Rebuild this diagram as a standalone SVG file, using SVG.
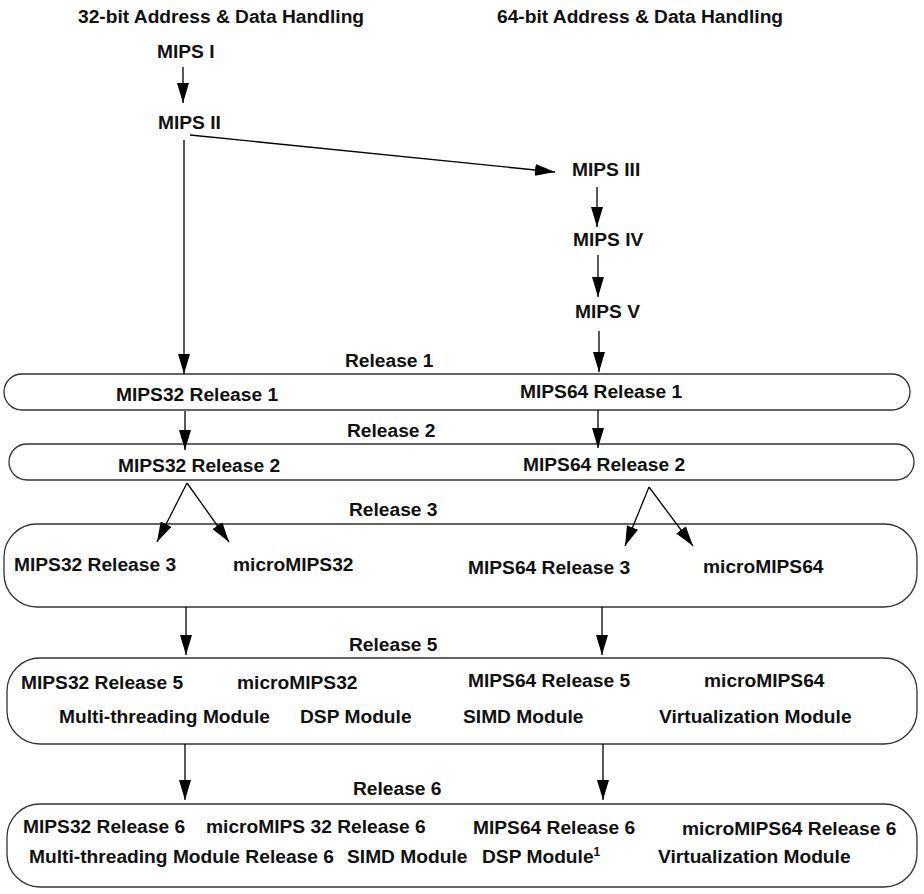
<svg xmlns="http://www.w3.org/2000/svg" width="924" height="894" viewBox="0 0 924 894">
<style>
text{font-family:"Liberation Sans",Arial,Helvetica,sans-serif;font-weight:bold;font-size:19.2px;fill:#111}
.box{fill:#fff;stroke:#333;stroke-width:1.3}
.c{fill:none;stroke:#000;stroke-width:1.3}
</style>
<defs>
<marker id="ah" markerUnits="userSpaceOnUse" markerWidth="20" markerHeight="12" refX="20" refY="6" orient="auto" viewBox="0 0 20 12">
<path d="M0,0 L20,6 L0,12 z" fill="#000"/>
</marker>
</defs>
<rect width="924" height="894" fill="#fff"/>
<g id="headers">
<text x="78" y="23">32-bit Address &amp; Data Handling</text>
<text x="497" y="23">64-bit Address &amp; Data Handling</text>
</g>
<g id="mips1"><text x="157" y="58">MIPS I</text></g>
<g id="mips2"><text x="158" y="129">MIPS II</text></g>
<g id="mips3"><text x="572" y="176">MIPS III</text></g>
<g id="mips4"><text x="573" y="246">MIPS IV</text></g>
<g id="mips5"><text x="575" y="318">MIPS V</text></g>
<g id="release1">
<text x="345" y="367">Release 1</text>
<rect class="box" x="4" y="374" width="906" height="36" rx="18" ry="18"/>
<text x="116" y="401">MIPS32 Release 1</text>
<text x="520" y="398">MIPS64 Release 1</text>
</g>
<g id="release2">
<text x="347" y="437">Release 2</text>
<rect class="box" x="9" y="444" width="905" height="36" rx="18" ry="18"/>
<text x="118" y="472">MIPS32 Release 2</text>
<text x="523" y="471">MIPS64 Release 2</text>
</g>
<g id="release3">
<text x="349" y="516">Release 3</text>
<rect class="box" x="4" y="524" width="913" height="83" rx="33" ry="33"/>
<text x="14" y="571">MIPS32 Release 3</text>
<text x="233" y="571">microMIPS32</text>
<text x="468" y="574">MIPS64 Release 3</text>
<text x="703" y="573">microMIPS64</text>
</g>
<g id="release5">
<text x="349" y="651">Release 5</text>
<rect class="box" x="7" y="658" width="910" height="86" rx="33" ry="33"/>
<text x="21" y="689">MIPS32 Release 5</text>
<text x="237" y="689">microMIPS32</text>
<text x="468" y="687">MIPS64 Release 5</text>
<text x="704" y="687">microMIPS64</text>
<text x="59" y="723">Multi-threading Module</text>
<text x="300" y="723">DSP Module</text>
<text x="463" y="723">SIMD Module</text>
<text x="659" y="723">Virtualization Module</text>
</g>
<g id="release6">
<text x="353" y="795">Release 6</text>
<rect class="box" x="7" y="804" width="910" height="83" rx="33" ry="33"/>
<text x="23" y="833">MIPS32 Release 6</text>
<text x="206" y="833">microMIPS 32 Release 6</text>
<text x="473" y="834">MIPS64 Release 6</text>
<text x="682" y="835">microMIPS64 Release 6</text>
<text x="29" y="863">Multi-threading Module Release 6</text>
<text x="347" y="863">SIMD Module</text>
<text x="482" y="863">DSP Module<tspan font-size="12" dy="-7">1</tspan></text>
<text x="658" y="863">Virtualization Module</text>
</g>
<g id="connectors">
<line class="c" x1="183" y1="67" x2="183" y2="103" marker-end="url(#ah)"/>
<line class="c" x1="184" y1="140" x2="184" y2="374" marker-end="url(#ah)"/>
<line class="c" x1="190" y1="135" x2="555" y2="172" marker-end="url(#ah)"/>
<line class="c" x1="597" y1="187" x2="597" y2="227" marker-end="url(#ah)"/>
<line class="c" x1="598" y1="255" x2="598" y2="297" marker-end="url(#ah)"/>
<line class="c" x1="599" y1="331" x2="599" y2="372" marker-end="url(#ah)"/>
<line class="c" x1="185" y1="411" x2="185" y2="450" marker-end="url(#ah)"/>
<line class="c" x1="598" y1="410" x2="598" y2="448" marker-end="url(#ah)"/>
<line class="c" x1="187" y1="483" x2="157" y2="542" marker-end="url(#ah)"/>
<line class="c" x1="187" y1="483" x2="229" y2="542" marker-end="url(#ah)"/>
<line class="c" x1="649" y1="487" x2="625" y2="546" marker-end="url(#ah)"/>
<line class="c" x1="649" y1="487" x2="693" y2="546" marker-end="url(#ah)"/>
<line class="c" x1="186" y1="607" x2="186" y2="655" marker-end="url(#ah)"/>
<line class="c" x1="602" y1="607" x2="602" y2="655" marker-end="url(#ah)"/>
<line class="c" x1="185" y1="744" x2="185" y2="800" marker-end="url(#ah)"/>
<line class="c" x1="603" y1="744" x2="603" y2="800" marker-end="url(#ah)"/>
</g>
</svg>
